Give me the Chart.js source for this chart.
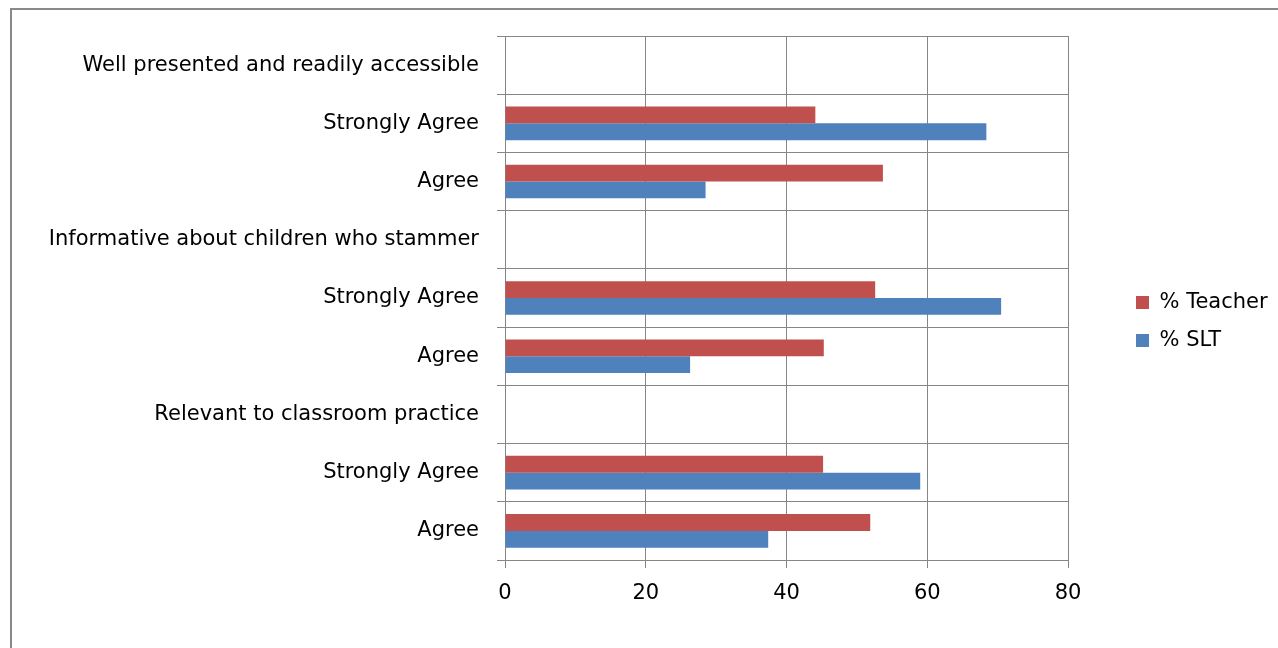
<!DOCTYPE html>
<html>
<head>
<meta charset="utf-8">
<script src="https://cdn.jsdelivr.net/npm/chart.js@4.4.1/dist/chart.umd.min.js"></script>
<style>
  html, body { margin: 0; padding: 0; background: #fff; }
  #wrap { width: 1278px; height: 648px; position: relative; }
</style>
</head>
<body>
<div id="wrap"><canvas id="c" width="1278" height="648"></canvas></div>
<script>
// Survey categories, listed top to bottom
const categories = [
  "Well presented and readily accessible",
  "Strongly Agree",
  "Agree",
  "Informative about children who stammer",
  "Strongly Agree",
  "Agree",
  "Relevant to classroom practice",
  "Strongly Agree",
  "Agree"
];
// Percentages per respondent group (heading rows have no bars)
const teacherValues = [null, 44.1, 53.7, null, 52.6, 45.3, null, 45.2, 51.9];
const sltValues     = [null, 68.4, 28.5, null, 70.5, 26.3, null, 59.0, 37.4];
const seriesNames = ["% Teacher", "% SLT"];
const xTicks = [0, 20, 40, 60, 80];

const GRID = '#868686';
const FONT = { family: '"DejaVu Sans", sans-serif', size: 21 };

// Outer frame of the chart object
const framePlugin = {
  id: 'frame',
  beforeDraw(chart) {
    const ctx = chart.ctx;
    ctx.save();
    ctx.strokeStyle = '#898989';
    ctx.lineWidth = 2;
    ctx.beginPath();
    ctx.moveTo(11, 648);
    ctx.lineTo(11, 9);
    ctx.lineTo(1278, 9);
    ctx.stroke();
    ctx.restore();
  }
};

// Place the legend to the right of the plot, a little below its middle
const legendPlace = {
  id: 'legendPlace',
  beforeLayout(chart) {
    const lg = chart.legend;
    if (lg && !lg._patched) {
      const fit = lg.fit.bind(lg);
      lg.fit = function () { fit(); this.width = 210; };
      lg._patched = true;
    }
  },
  afterLayout(chart) {
    const lg = chart.legend;
    const dx = 1137 - 18 - lg.left;
    lg.left += dx; lg.right += dx;
    const dy = 293 - 18 - lg.top;
    lg.top += dy; lg.bottom += dy;
  }
};

new Chart(document.getElementById('c'), {
  type: 'bar',
  data: {
    labels: categories,
    datasets: [
      { label: seriesNames[0], data: teacherValues, backgroundColor: '#C0504D' },
      { label: seriesNames[1], data: sltValues, backgroundColor: '#4F81BD' }
    ]
  },
  options: {
    indexAxis: 'y',
    responsive: false,
    animation: false,
    events: [],
    categoryPercentage: 0.577,
    barPercentage: 1.0,
    layout: { padding: { left: 12, top: 36, right: 0, bottom: 0 } },
    scales: {
      x: {
        min: 0, max: 80,
        afterBuildTicks(scale) { scale.ticks = xTicks.map(v => ({ value: v })); },
        afterFit(scale) { scale.height = 88; },
        grid: { color: GRID, lineWidth: 1, tickLength: 8, drawTicks: true },
        border: { color: GRID, width: 1 },
        ticks: { color: '#000', font: FONT, padding: 13 }
      },
      y: {
        afterFit(scale) { scale.width = 505 - 12; },
        grid: { color: GRID, lineWidth: 1, tickLength: 8, offset: true },
        border: { color: GRID, width: 1 },
        ticks: { color: '#000', font: FONT, padding: 18, autoSkip: false }
      }
    },
    plugins: {
      legend: {
        position: 'right',
        align: 'start',
        labels: { boxWidth: 13, boxHeight: 13, padding: 17, color: '#000', font: FONT }
      },
      tooltip: { enabled: false }
    }
  },
  plugins: [framePlugin, legendPlace]
});
</script>
</body>
</html>
